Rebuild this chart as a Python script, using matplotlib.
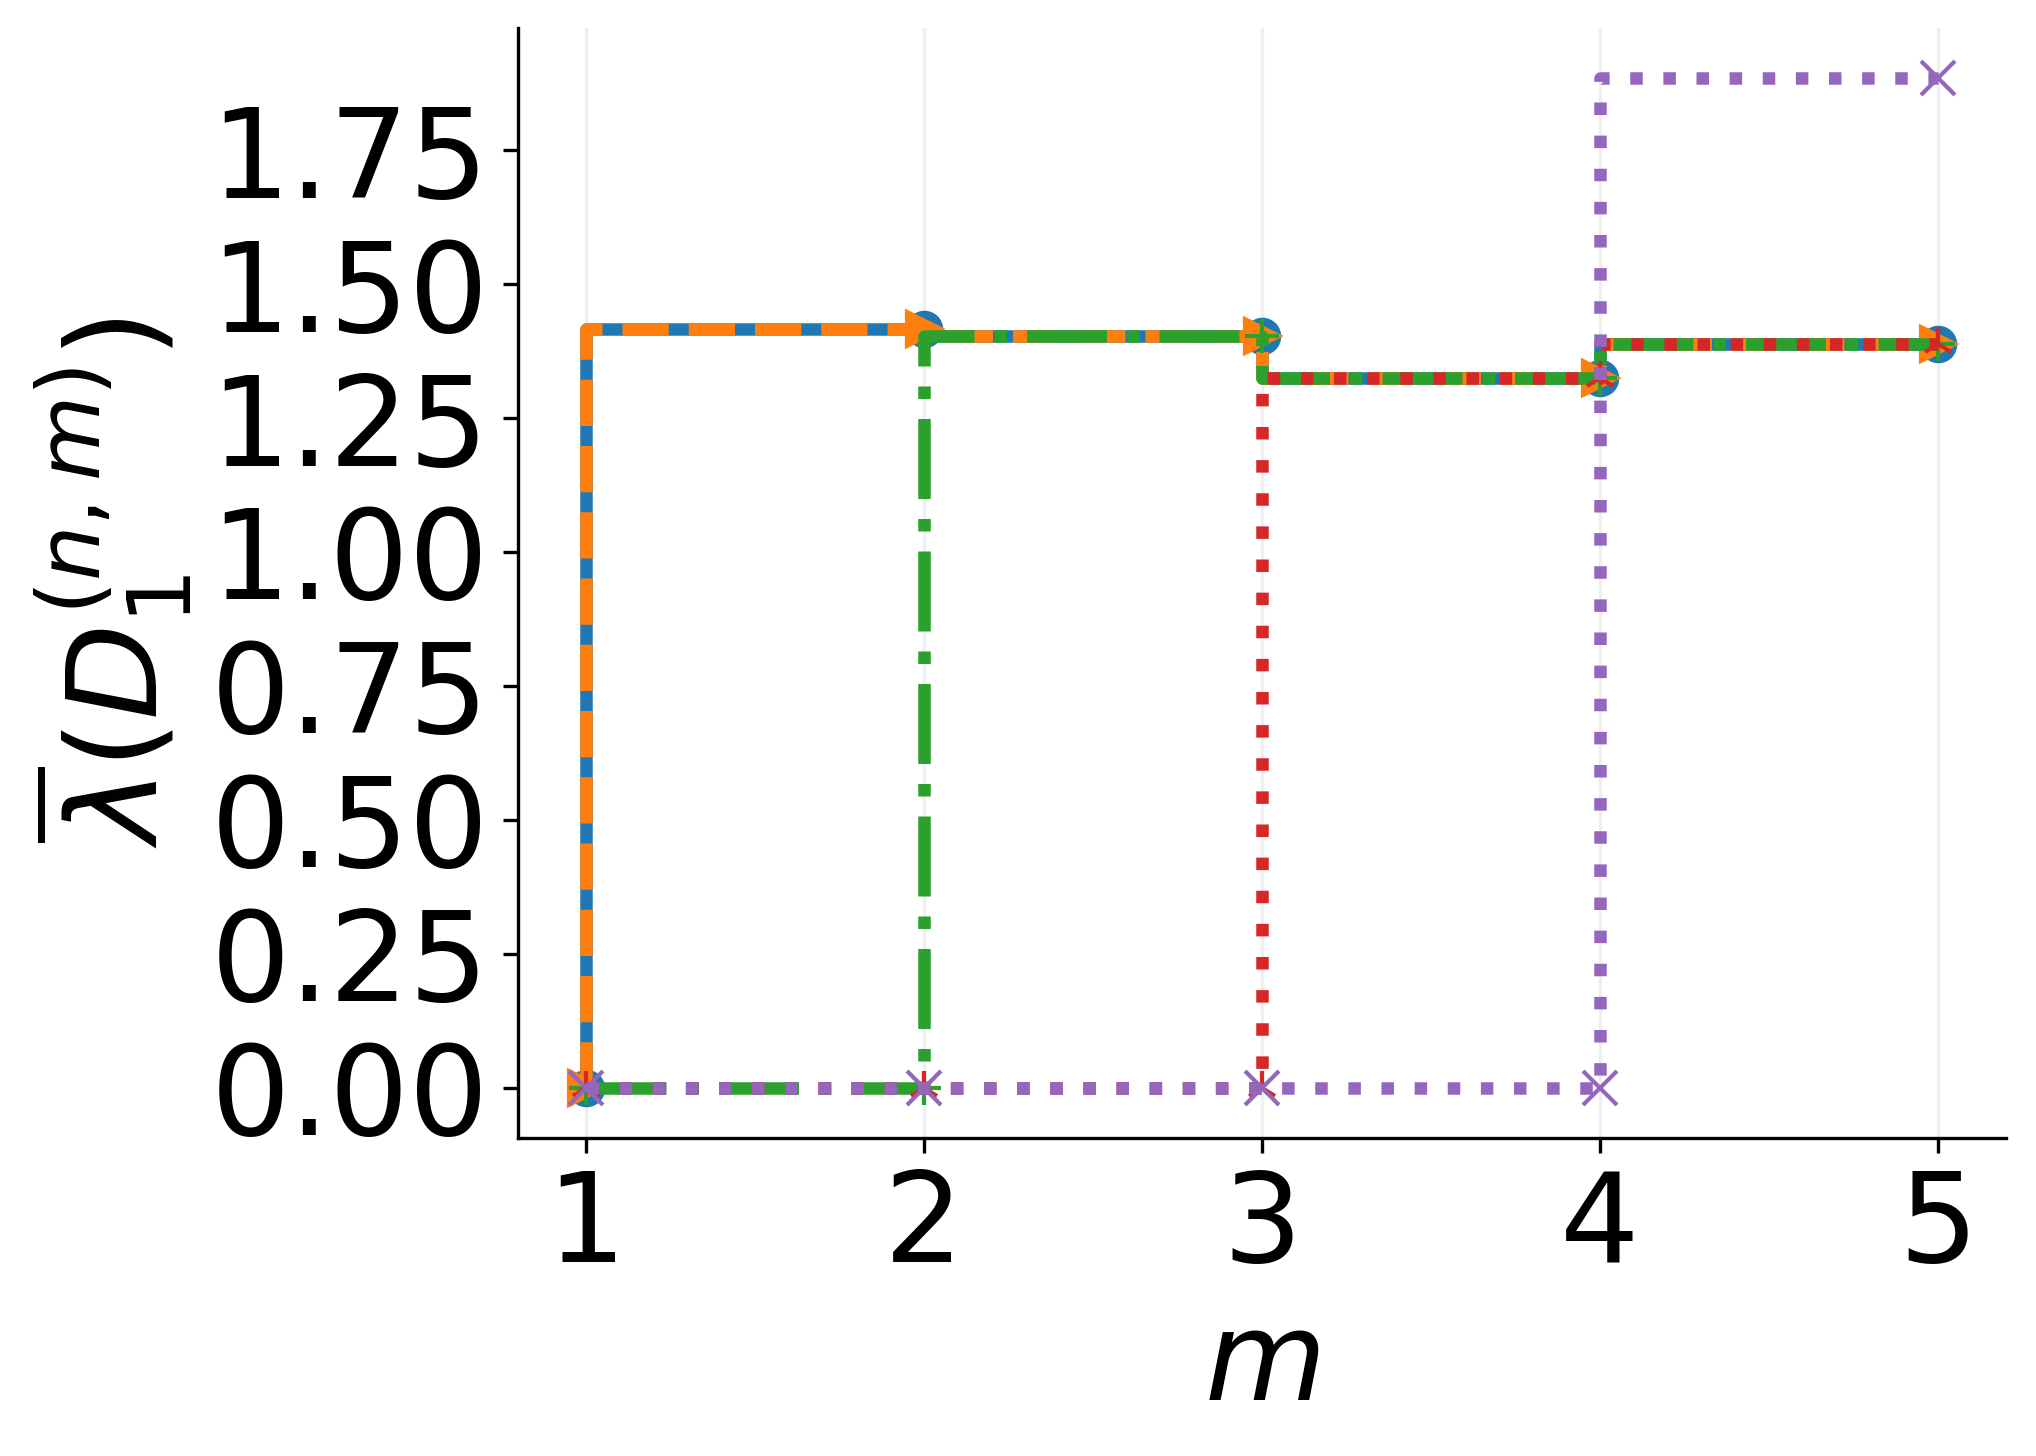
import numpy as np
import matplotlib
matplotlib.use("Agg")
import matplotlib.pyplot as plt

m = [1, 2, 3, 4, 5]
lam_n1 = [0.0, 1.416, 1.404, 1.324, 1.389]
lam_n2 = [0.0, 1.416, 1.404, 1.324, 1.389]
lam_n3 = [0.0, 0.0, 1.404, 1.324, 1.389]
lam_n4 = [0.0, 0.0, 0.0, 1.324, 1.389]
lam_n5 = [0.0, 0.0, 0.0, 0.0, 1.884]

series = [lam_n1, lam_n2, lam_n3, lam_n4, lam_n5]
markers = ['o', '>', '+', '2', 'x']
styles = ['-', '--', '-.', ':', ':']
colors = ['tab:blue', 'tab:orange', 'tab:green', 'tab:red', 'tab:purple']

plt.rcParams['font.size'] = 30

fig = plt.figure(figsize=(2036 / 300, 1456 / 300), dpi=300)
ax = fig.add_axes([0.2544, 0.2184, 0.9852 - 0.2544, 0.9808 - 0.2184])

for y, mk, ls, c in zip(series, markers, styles, colors):
    ax.step(m, y, where='pre', marker=mk, linestyle=ls, color=c,
            linewidth=3, markersize=8)

ax.set_xticks(m)
ax.set_yticks(np.arange(0, 1.76, 0.25))
ax.grid(axis='x', alpha=0.2)
ax.spines['top'].set_visible(False)
ax.spines['right'].set_visible(False)
ax.set_xlabel('$m$')
ax.set_ylabel(r'$\overline{\lambda}(D_1^{(n,m)})$')

fig.savefig('out.png', dpi=300)
